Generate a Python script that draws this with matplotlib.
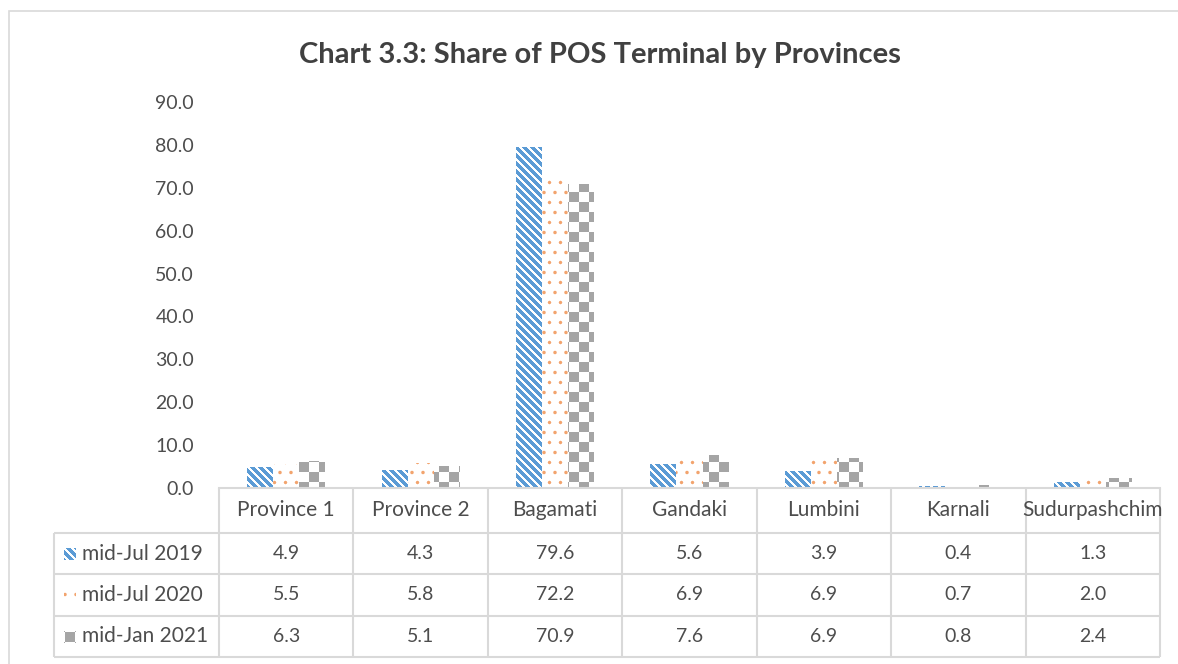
import matplotlib
matplotlib.use('Agg')
import matplotlib.pyplot as plt
import matplotlib.patches as mpatches
import matplotlib.transforms as mtransforms
from matplotlib.path import Path
import numpy as np

provinces = ['Province 1', 'Province 2', 'Bagamati', 'Gandaki', 'Lumbini', 'Karnali', 'Sudurpashchim']
series = ['mid-Jul 2019', 'mid-Jul 2020', 'mid-Jan 2021']
jul_2019 = [4.9, 4.3, 79.6, 5.6, 3.9, 0.4, 1.3]
jul_2020 = [5.5, 5.8, 72.2, 6.9, 6.9, 0.7, 2.0]
jan_2021 = [6.3, 5.1, 70.9, 7.6, 6.9, 0.8, 2.4]
yticks = [0, 10, 20, 30, 40, 50, 60, 70, 80, 90]

W, H, DPI = 1178, 664, 100
GRID = '#D9D9D9'
TEXT = '#4D4D4D'
plt.rcParams['font.family'] = ['Lato', 'DejaVu Sans']


def texture(kind, h, w, shift=0):
    """Excel-like pattern fill as an RGBA array, one cell per screen pixel."""
    rows, cols = np.mgrid[0:h, 0:w].astype(float)
    rows += shift
    cols += shift
    if kind == 'stripes':
        color = np.array([0x5B, 0x9B, 0xD5]) / 255
        d = np.abs(((cols - rows) % 8.0) - 4.0)
        weight = np.clip(3.0 - d, 0, 1)
    elif kind == 'dots':
        color = np.array([0xED, 0x7D, 0x31]) / 255
        k = np.round(rows / 10.0)
        dy = rows - 10 * k
        off = (k % 2) * 5.5
        dx = (cols - off) % 11.0
        dx = np.minimum(dx, 11.0 - dx)
        weight = np.clip(2.2 - np.hypot(dx, dy), 0, 1) * 0.7
    else:
        color = np.array([0xA5, 0xA5, 0xA5]) / 255
        weight = (((rows // 10) + (cols // 10)) % 2 == 0).astype(float)
    img = np.ones((h, w, 4))
    img[..., :3] = 1 - weight[..., None] * (1 - color)
    return img


fig = plt.figure(figsize=(W / DPI, H / DPI), dpi=DPI)
ax_l, ax_r, ax_b, ax_t = 219, 1160, 488, 102
ax = fig.add_axes([ax_l / W, 1 - ax_b / H, (ax_r - ax_l) / W, (ax_b - ax_t) / H])
ax_w, ax_h = ax_r - ax_l, ax_b - ax_t

x = np.arange(len(provinces))
width = 0.194
kinds = ['stripes', 'dots', 'checker']
for i, vals in enumerate([jul_2019, jul_2020, jan_2021]):
    bars = ax.bar(x + (i - 1) * width, vals, width, facecolor='none', edgecolor='none')
    path = Path.make_compound_path(*[b.get_path().transformed(b.get_patch_transform()) for b in bars])
    im = ax.imshow(texture(kinds[i], ax_h, ax_w), extent=(0, 1, 0, 1), transform=ax.transAxes,
                   interpolation='nearest', aspect='auto', zorder=2)
    im.set_clip_path(path, ax.transData)

ax.set_xlim(-0.5, len(provinces) - 0.5)
ax.set_ylim(0, 90)
ax.set_yticks(yticks)
ax.set_yticklabels([f'{v:.1f}' for v in yticks])
ax.tick_params(axis='y', length=0, pad=18, labelsize=14, labelcolor=TEXT)
ax.set_xticks([])
for s in ['top', 'left', 'right']:
    ax.spines[s].set_visible(False)
ax.spines['bottom'].set_color(GRID)
ax.spines['bottom'].set_linewidth(1.5)

# data table below the axis
tr = mtransforms.blended_transform_factory(ax.transData, ax.transAxes)
cat_w = ax_w / len(provinces)
label_left = -0.5 - (ax_l - 54) / cat_w
row_px = [488, 533, 574, 616, 657]
row_y = [(ax_b - p) / ax_h for p in row_px]
lkw = dict(color=GRID, lw=1.5, transform=tr, clip_on=False, solid_capstyle='butt')
for y in row_y[1:]:
    ax.plot([label_left, len(provinces) - 0.5], [y, y], **lkw)
for b in np.arange(len(provinces) + 1) - 0.5:
    ax.plot([b, b], [row_y[0], row_y[-1]], **lkw)
ax.plot([label_left, label_left], [row_y[1], row_y[-1]], **lkw)

tkw = dict(transform=tr, fontsize=14, color=TEXT, va='center', ha='center', clip_on=False)
for j, name in enumerate(provinces):
    ax.text(j, (row_y[0] + row_y[1]) / 2, name, **{**tkw, 'fontsize': 15})
text_left = -0.5 - (ax_l - 82) / cat_w
icon_shift = [5, 5, -1]
for i, (name, vals) in enumerate(zip(series, [jul_2019, jul_2020, jan_2021])):
    yc = (row_y[i + 1] + row_y[i + 2]) / 2
    ax.text(text_left, yc, name, **{**tkw, 'ha': 'left', 'fontsize': 15})
    for j, v in enumerate(vals):
        ax.text(j, yc, f'{v:.1f}', **tkw)
    yc_px = (row_px[i + 1] + row_px[i + 2]) / 2
    fig.figimage(texture(kinds[i], 12, 12, shift=icon_shift[i]), xo=64, yo=int(H - yc_px - 6), zorder=3)

fig.text(600 / W, 1 - 55 / H, 'Chart 3.3: Share of POS Terminal by Provinces', ha='center', va='center',
         fontsize=21, fontweight='bold', color='#404040')
fig.add_artist(mpatches.Rectangle((9 / W, -0.5), 2, 1.5 - 11 / H, transform=fig.transFigure,
                                  fill=False, edgecolor=GRID, lw=1.2))

plt.savefig('out.png', dpi=DPI)
plt.close()
